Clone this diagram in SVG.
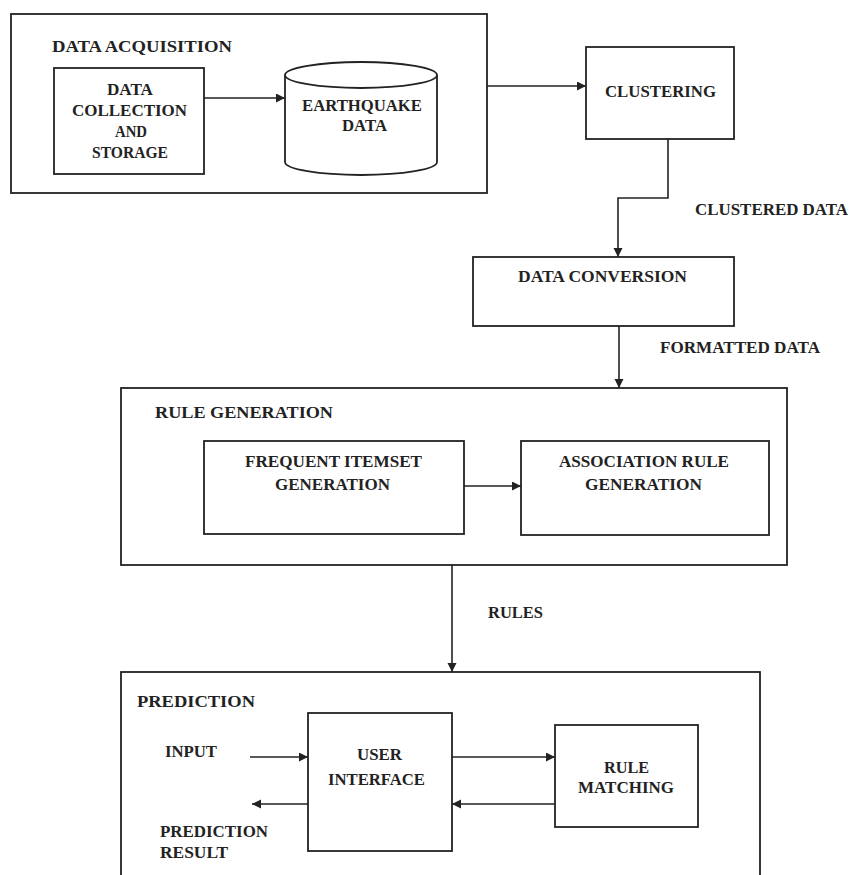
<svg xmlns="http://www.w3.org/2000/svg" width="850" height="875" viewBox="0 0 850 875">
<style>
.box{fill:#fff;stroke:#222;stroke-width:1.8}
.ln{fill:none;stroke:#222;stroke-width:1.6}
text{font-family:"Liberation Serif","Times New Roman",serif;font-weight:bold;font-size:16px;fill:#222}
</style>
<defs>
<marker id="ah" markerUnits="userSpaceOnUse" markerWidth="10" markerHeight="10" refX="9" refY="4.5" orient="auto">
<path d="M0,0 L9,4.5 L0,9 z" fill="#222"/>
</marker>
</defs>
<rect width="850" height="875" fill="#fff"/>

<g id="data-acquisition">
<rect class="box" x="11" y="14" width="476" height="179"/>
<text x="52" y="52" textLength="180" lengthAdjust="spacingAndGlyphs">DATA ACQUISITION</text>
</g>
<g id="data-collection">
<rect class="box" x="54" y="68" width="150" height="106"/>
<text x="107" y="95" textLength="46" lengthAdjust="spacingAndGlyphs">DATA</text>
<text x="72" y="116" textLength="115" lengthAdjust="spacingAndGlyphs">COLLECTION</text>
<text x="115" y="137" textLength="32" lengthAdjust="spacingAndGlyphs">AND</text>
<text x="92" y="158" textLength="76" lengthAdjust="spacingAndGlyphs">STORAGE</text>
</g>
<g id="earthquake-data">
<path class="box" d="M285,75 L285,162 A76,13 0 0 0 437,162 L437,75"/>
<ellipse class="box" cx="361" cy="75" rx="76" ry="13"/>
<text x="302" y="111" textLength="120" lengthAdjust="spacingAndGlyphs">EARTHQUAKE</text>
<text x="342" y="131" textLength="45" lengthAdjust="spacingAndGlyphs">DATA</text>
</g>
<g id="clustering">
<rect class="box" x="586" y="47" width="148" height="92"/>
<text x="605" y="97" textLength="111" lengthAdjust="spacingAndGlyphs">CLUSTERING</text>
</g>
<g id="data-conversion">
<rect class="box" x="473" y="257" width="261" height="69"/>
<text x="518" y="282" textLength="169" lengthAdjust="spacingAndGlyphs">DATA CONVERSION</text>
</g>
<g id="rule-generation">
<rect class="box" x="121" y="388" width="666" height="177"/>
<text x="155" y="418" textLength="178" lengthAdjust="spacingAndGlyphs">RULE GENERATION</text>
</g>
<g id="frequent-itemset">
<rect class="box" x="204" y="441" width="260" height="93"/>
<text x="245" y="467" textLength="177" lengthAdjust="spacingAndGlyphs">FREQUENT ITEMSET</text>
<text x="275" y="490" textLength="115" lengthAdjust="spacingAndGlyphs">GENERATION</text>
</g>
<g id="association-rule">
<rect class="box" x="521" y="441" width="248" height="94"/>
<text x="559" y="467" textLength="170" lengthAdjust="spacingAndGlyphs">ASSOCIATION RULE</text>
<text x="585" y="490" textLength="117" lengthAdjust="spacingAndGlyphs">GENERATION</text>
</g>
<g id="prediction">
<rect class="box" x="121" y="672" width="639" height="220"/>
<text x="137" y="707" textLength="118" lengthAdjust="spacingAndGlyphs">PREDICTION</text>
<text x="165" y="757" textLength="52" lengthAdjust="spacingAndGlyphs">INPUT</text>
<text x="160" y="837" textLength="108" lengthAdjust="spacingAndGlyphs">PREDICTION</text>
<text x="160" y="858" textLength="68" lengthAdjust="spacingAndGlyphs">RESULT</text>
</g>
<g id="user-interface">
<rect class="box" x="308" y="713" width="144" height="138"/>
<text x="357" y="760" textLength="45" lengthAdjust="spacingAndGlyphs">USER</text>
<text x="328" y="785" textLength="97" lengthAdjust="spacingAndGlyphs">INTERFACE</text>
</g>
<g id="rule-matching">
<rect class="box" x="555" y="725" width="143" height="102"/>
<text x="604" y="773" textLength="45" lengthAdjust="spacingAndGlyphs">RULE</text>
<text x="578" y="793" textLength="96" lengthAdjust="spacingAndGlyphs">MATCHING</text>
</g>

<g id="connectors">
<line class="ln" x1="204" y1="98" x2="285" y2="98" marker-end="url(#ah)"/>
<line class="ln" x1="487" y1="86" x2="586" y2="86" marker-end="url(#ah)"/>
<polyline class="ln" points="668,139 668,198 618,198 618,257" marker-end="url(#ah)"/>
<line class="ln" x1="619" y1="326" x2="619" y2="388" marker-end="url(#ah)"/>
<line class="ln" x1="464" y1="486" x2="521" y2="486" marker-end="url(#ah)"/>
<line class="ln" x1="452" y1="565" x2="452" y2="672" marker-end="url(#ah)"/>
<line class="ln" x1="250" y1="757" x2="308" y2="757" marker-end="url(#ah)"/>
<line class="ln" x1="308" y1="804" x2="252" y2="804" marker-end="url(#ah)"/>
<line class="ln" x1="452" y1="757" x2="555" y2="757" marker-end="url(#ah)"/>
<line class="ln" x1="555" y1="804" x2="452" y2="804" marker-end="url(#ah)"/>
<text x="695" y="215" textLength="153" lengthAdjust="spacingAndGlyphs">CLUSTERED DATA</text>
<text x="660" y="353" textLength="160" lengthAdjust="spacingAndGlyphs">FORMATTED DATA</text>
<text x="488" y="618" textLength="55" lengthAdjust="spacingAndGlyphs">RULES</text>
</g>
</svg>
